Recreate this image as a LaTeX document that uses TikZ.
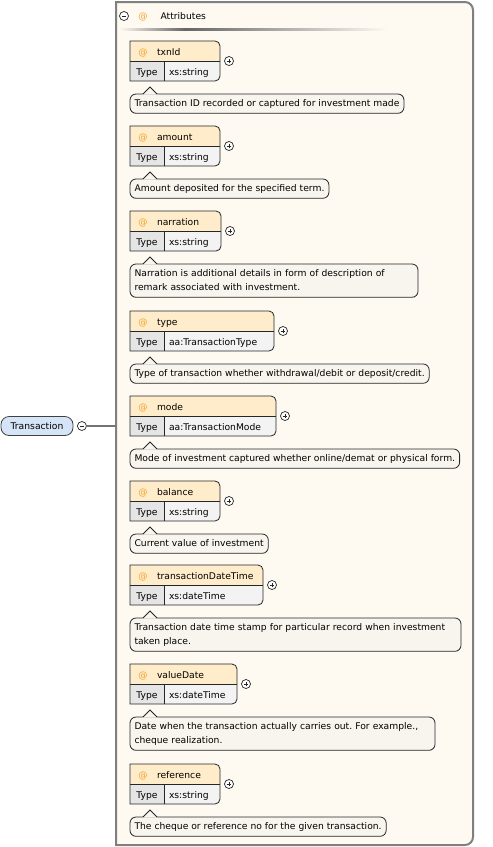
\documentclass[tikz,border=0pt]{standalone}
\usepackage{fontspec}
\setmainfont{DejaVu Sans}
\usetikzlibrary{positioning,backgrounds}
\frenchspacing
\definecolor{attrframe}{RGB}{128,128,128}
\definecolor{attrbg}{RGB}{254,250,242}
\definecolor{attrname}{RGB}{255,236,202}
\definecolor{attrtype}{RGB}{229,229,229}
\definecolor{attrval}{RGB}{243,243,243}
\definecolor{attrnote}{RGB}{247,245,238}
\definecolor{attrat}{RGB}{242,162,40}
\definecolor{elemfill}{RGB}{214,228,248}

\newcommand\atsym{\textcolor{attrat}{@}}
\newcommand\notestrut{\rule[-2pt]{0pt}{10.6pt}}
% one attribute: [note options], name, top, box width, type, note
\newcommand\xsattr[6][]{%
  \pgfmathsetmacro\namew{#4-16.8}%
  \pgfmathsetmacro\valw{#4-44}%
  \node[aname, text width=\namew pt] (n#2) at (130,-#3) {\atsym\kern9.4pt #2};
  \node[atype, anchor=north west] (t#2) at (n#2.south west) {Type};
  \node[aval, text width=\valw pt, right=0pt of t#2] (v#2) {#5};
  \begin{scope}[on background layer]
    \fill[attrname] (n#2.south west) -- (n#2.north west) -- ([xshift=-5pt]n#2.north east)
      arc[start angle=90, end angle=0, radius=5pt] -- (n#2.south east) -- cycle;
    \fill[attrtype] (t#2.south west) rectangle (t#2.north east);
    \fill[attrval] (v#2.north west) -- (v#2.north east) -- ([yshift=5pt]v#2.south east)
      arc[start angle=0, end angle=-90, radius=5pt] -- (v#2.south west) -- cycle;
  \end{scope}
  \draw[boxline] (t#2.south west) -- (n#2.north west) -- ([xshift=-5pt]n#2.north east)
    arc[start angle=90, end angle=0, radius=5pt] -- ([yshift=5pt]v#2.south east)
    arc[start angle=0, end angle=-90, radius=5pt] -- cycle;
  \draw[boxline] (t#2.north west) -- (v#2.north east) (t#2.north east) -- (t#2.south east);
  \node[plussign, right=4.5pt of n#2.south east] (p#2) {};
  \node[anote, #1, below=13pt of t#2.south west, anchor=north west] (d#2) {\notestrut#6\notestrut};
  \fill[attrnote] ([xshift=12.4pt,yshift=-0.7pt]d#2.north west) -- ([xshift=20pt,yshift=7pt]d#2.north west)
    -- ([xshift=27.6pt,yshift=-0.7pt]d#2.north west) -- cycle;
  \draw[noteedge] ([xshift=13pt]d#2.north west) -- ([xshift=20pt,yshift=7pt]d#2.north west)
    -- ([xshift=27pt]d#2.north west);
}

\begin{document}
\begin{tikzpicture}[
x=1pt, y=1pt,
font=\fontsize{9.2}{14}\selectfont,
attrgroup/.style={draw=attrframe, line width=2pt, fill=attrbg},
aname/.style={anchor=north west, align=left, inner xsep=8.4pt, inner ysep=0pt, minimum height=20pt, text height=10.5pt, text depth=1.5pt, outer sep=0pt},
atype/.style={minimum width=34pt, minimum height=20pt, inner sep=0pt, text height=10.5pt, text depth=1.5pt, outer sep=0pt},
aval/.style={align=left, inner xsep=5pt, inner ysep=0pt, minimum height=20pt, text height=10.5pt, text depth=1.5pt, outer sep=0pt},
anote/.style={draw=black!85, fill=attrnote, line width=0.8pt, rounded corners=6pt, align=left, inner xsep=4.5pt, inner ysep=4.35pt, outer sep=0pt},
boxline/.style={draw=black!85, line width=0.8pt},
noteedge/.style={draw=black!85, line width=0.8pt},
togglec/.style={circle, draw=black!85, fill=white, line width=0.7pt, minimum size=9pt, inner sep=0pt, outer sep=0pt},
plussign/.style={togglec, path picture={\draw[line width=0.7pt] ([xshift=-2.4pt]path picture bounding box.center) -- ([xshift=2.4pt]path picture bounding box.center) ([yshift=-2.4pt]path picture bounding box.center) -- ([yshift=2.4pt]path picture bounding box.center);}},
minussign/.style={togglec, path picture={\draw[line width=0.7pt] ([xshift=-2.4pt]path picture bounding box.center) -- ([xshift=2.4pt]path picture bounding box.center);}},
elem/.style={draw=black!75, fill=elemfill, line width=0.8pt, rounded corners=8pt, minimum width=72pt, minimum height=19pt, inner sep=0pt, text height=6.8pt, text depth=0pt},
conn/.style={draw=black!55, line width=2pt}
]
\useasboundingbox (0,0) rectangle (493,-847);
\coordinate (attrNW) at (116,-2);
\begin{scope}[on background layer]
\draw[attrgroup] (attrNW) -- (465,-2) arc[start angle=90, end angle=0, radius=8pt]
  -- (473,-837) arc[start angle=0, end angle=-90, radius=8pt] -- (116,-845) -- cycle;
\shade[left color=attrbg, right color=black!60] (119,-28.8) rectangle (185,-30.8);
\shade[left color=black!60, right color=attrbg] (185,-28.8) rectangle (388,-30.8);
\end{scope}
% header of the attribute group
\node[minussign] (attrToggle) at (124,-16) {};
\node[anchor=base, text=attrat] (attrAt) at (143,-19.5) {@};
\node[anchor=base west] (attrTitle) at (157,-19.5) {Attributes};
% element and its link
\node[elem] (transaction) at (37,-426) {Transaction};
\node[minussign, right=4pt of transaction] (transToggle) {};
\draw[conn] (transToggle) -- (transToggle -| attrNW);
% attributes
\xsattr{txnId}{41}{90}{xs:string}{Transaction ID recorded or captured for investment made}
\xsattr{amount}{126}{90}{xs:string}{Amount deposited for the specified term.}
\xsattr[text width=279pt]{narration}{211}{91}{xs:string}{Narration is additional details in form of description of\\remark associated with investment.}
\xsattr{type}{311}{144}{aa:TransactionType}{Type of transaction whether withdrawal/debit or deposit/credit.}
\xsattr{mode}{396}{146}{aa:TransactionMode}{Mode of investment captured whether online/demat or physical form.}
\xsattr{balance}{481}{90}{xs:string}{Current value of investment}
\xsattr[text width=322pt]{transactionDateTime}{565}{133}{xs:dateTime}{Transaction date time stamp for particular record when investment\\taken place.}
\xsattr[text width=296pt]{valueDate}{664}{107}{xs:dateTime}{Date when the transaction actually carries out. For example.,\\cheque realization.}
\xsattr{reference}{764}{90}{xs:string}{The cheque or reference no for the given transaction.}
\end{tikzpicture}
\end{document}
